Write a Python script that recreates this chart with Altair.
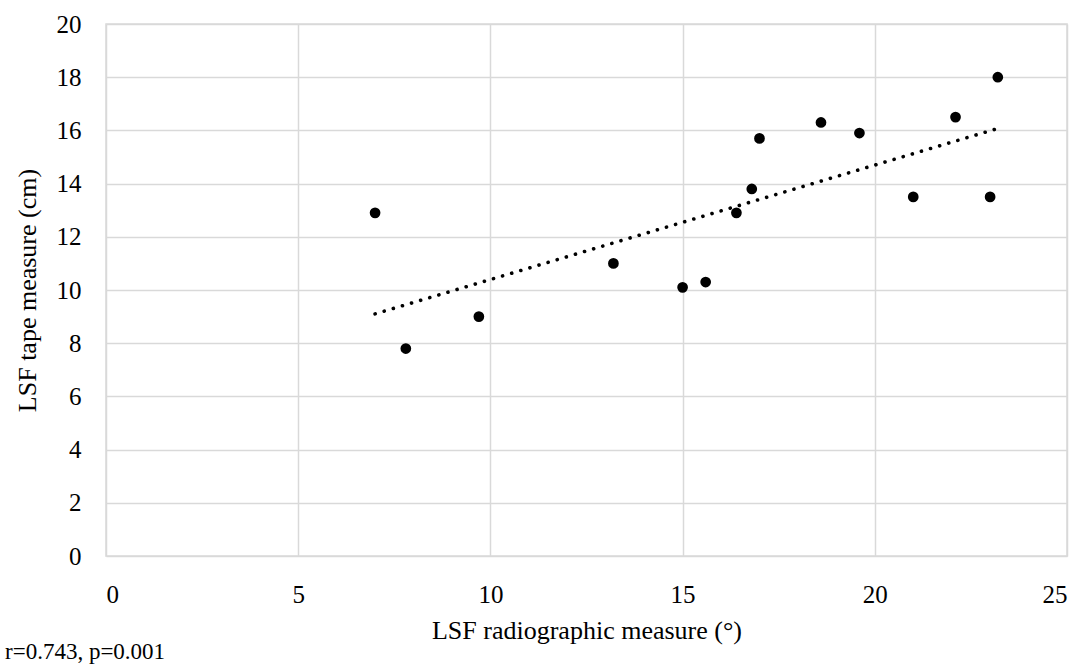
import altair as alt
import pandas as pd

radiographic = [7.0, 7.8, 9.7, 13.2, 15.0, 15.6, 16.4, 16.8, 17.0, 18.6, 19.6, 21.0, 22.1, 23.0, 23.2]
tape = [12.9, 7.8, 9.0, 11.0, 10.1, 10.3, 12.9, 13.8, 15.7, 16.3, 15.9, 13.5, 16.5, 13.5, 18.0]
x_ticks = [0, 5, 10, 15, 20, 25]
y_ticks = [0, 2, 4, 6, 8, 10, 12, 14, 16, 18, 20]
annotation = "r=0.743, p=0.001"

df = pd.DataFrame({"x": radiographic, "y": tape})

FONT = "Liberation Serif"
LFS = 25
TFS = 26

xenc = alt.X("x:Q", scale=alt.Scale(domain=[0, 25], nice=False, zero=False),
             axis=alt.Axis(values=x_ticks, title="LSF radiographic measure (°)",
                           grid=True, gridColor="#d9d9d9", gridWidth=1.5,
                           domain=False, ticks=False, labelPadding=26,
                           titlePadding=10, format="d"))
yenc = alt.Y("y:Q", scale=alt.Scale(domain=[0, 20], nice=False, zero=False),
             axis=alt.Axis(values=y_ticks, title="LSF tape measure (cm)",
                           grid=True, gridColor="#d9d9d9", gridWidth=1.5,
                           domain=False, ticks=False, labelPadding=25,
                           titlePadding=16, format="d"))

points = alt.Chart(df).mark_circle(size=115, color="black", opacity=1).encode(x=xenc, y=yenc)

trend = alt.Chart(df).transform_regression("x", "y").mark_line(
    color="black", strokeWidth=3.6, strokeDash=[0.1, 9.4], strokeCap="round"
).encode(x=alt.X("x:Q"), y=alt.Y("y:Q"))

note = alt.Chart(pd.DataFrame({"t": [annotation]})).mark_text(
    align="left", baseline="middle", font=FONT, fontSize=23, color="black"
).encode(text="t:N", x=alt.value(-101), y=alt.value(628))

chart = alt.layer(points, trend, note).properties(
    width=961, height=532,
    background="white",
    autosize=alt.AutoSizeParams(type="none"),
    padding={"left": 106, "top": 24, "right": 19, "bottom": 111},
).configure_view(stroke="#d9d9d9", strokeWidth=1.5).configure_axis(
    labelFont=FONT, titleFont=FONT, labelFontSize=LFS, titleFontSize=TFS,
    labelColor="black", titleColor="black", titleFontWeight="normal"
)

chart.save("out.html", embed_options={"renderer": "svg", "actions": False})
